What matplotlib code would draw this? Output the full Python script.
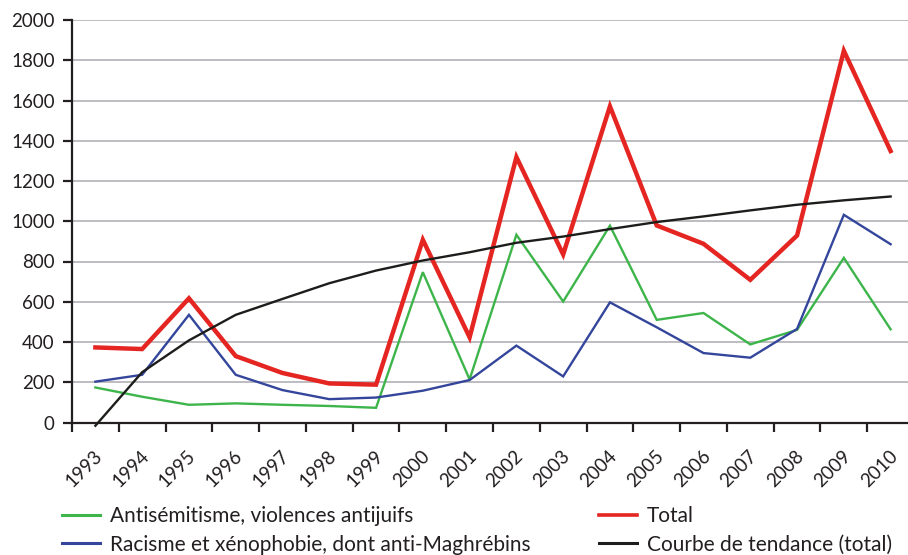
import matplotlib
matplotlib.use("Agg")
import matplotlib.pyplot as plt
from matplotlib.transforms import ScaledTranslation
from matplotlib.lines import Line2D

years = ["1993", "1994", "1995", "1996", "1997", "1998", "1999", "2000", "2001",
         "2002", "2003", "2004", "2005", "2006", "2007", "2008", "2009", "2010"]
antisemitisme = [174, 128, 88, 95, 88, 82, 73, 747, 214, 933, 601, 978, 510, 544, 388, 460, 818, 463]
racisme = [203, 237, 535, 237, 161, 116, 124, 158, 211, 382, 229, 597, 473, 345, 322, 465, 1032, 886]
total = [373, 365, 617, 330, 246, 194, 188, 908, 423, 1319, 835, 1571, 979, 888, 709, 929, 1847, 1349]
tendance = [-16, 250, 408, 535, 614, 692, 755, 805, 846, 893, 924, 961, 996, 1024, 1054, 1082, 1104, 1123]
yticks = [0, 200, 400, 600, 800, 1000, 1200, 1400, 1600, 1800, 2000]

labels = ["Antisémitisme, violences antijuifs",
          "Racisme et xénophobie, dont anti-Maghrébins",
          "Total",
          "Courbe de tendance (total)"]

plt.rcParams['font.family'] = ['Lato', 'DejaVu Sans']
TXT = '#231f20'
GREEN, BLUE, RED, BLACK = '#3db54a', '#34469b', '#e52521', '#1d1d1b'

fig = plt.figure(figsize=(9.08, 5.55), dpi=100)
W, H = 908, 555
left, right, bottom, top = 72, 914, 422.5, 20
ax = fig.add_axes([left / W, (H - bottom) / H, (right - left) / W, (bottom - top) / H])

x = list(range(len(years)))
ax.plot(x, antisemitisme, color=GREEN, lw=1.7, zorder=3, solid_joinstyle='miter')
ax.plot(x, racisme, color=BLUE, lw=1.7, zorder=3, solid_joinstyle='miter')
ax.plot(x, total, color=RED, lw=3.2, zorder=4, solid_joinstyle='miter')
ax.plot(x, tendance, color=BLACK, lw=1.7, zorder=5, clip_on=False)

ax.set_xlim(-0.5, len(years) - 0.5)
ax.set_ylim(0, 2000)
ax.set_yticks(yticks)
ax.set_yticklabels([str(v) for v in yticks], fontsize=13.5, color=TXT)
ax.yaxis.grid(True, color='#b6b6bc', lw=1.3)
ax.set_axisbelow(True)

ax.set_xticks([i - 0.5 for i in range(len(years) + 1)])
ax.set_xticklabels([])
ax.set_xticks(x, minor=True)
ax.set_xticklabels(years, minor=True, rotation=45, ha='right', va='center',
                   rotation_mode='anchor', fontsize=13.5, color=TXT)
ax.tick_params(axis='x', which='minor', length=0, pad=22)
ax.tick_params(axis='x', which='major', length=6.5, width=1.6, color=TXT, direction='out')
ax.tick_params(axis='y', length=6.5, width=1.6, color=TXT, pad=6, direction='out')
for lbl in ax.get_xticklabels(minor=True):
    lbl.set_transform(lbl.get_transform() + ScaledTranslation(0.04, 0, fig.dpi_scale_trans))

for s in ['top', 'right']:
    ax.spines[s].set_visible(False)
for s in ['left', 'bottom']:
    ax.spines[s].set_color(TXT)
    ax.spines[s].set_linewidth(1.6)

handles = [Line2D([], [], color=GREEN, lw=2.2),
           Line2D([], [], color=BLUE, lw=2.2),
           Line2D([], [], color=RED, lw=2.6),
           Line2D([], [], color=BLACK, lw=2.2)]
leg = fig.legend(handles, labels, ncol=2, loc='upper left',
                 bbox_to_anchor=(62 / W, (H - 506) / H), frameon=False,
                 fontsize=15, handlelength=1.8, handletextpad=0.5,
                 columnspacing=3.3, labelspacing=0.42, borderaxespad=0, borderpad=0)
for t in leg.get_texts():
    t.set_color(TXT)

fig.savefig('out.png', dpi=100)
